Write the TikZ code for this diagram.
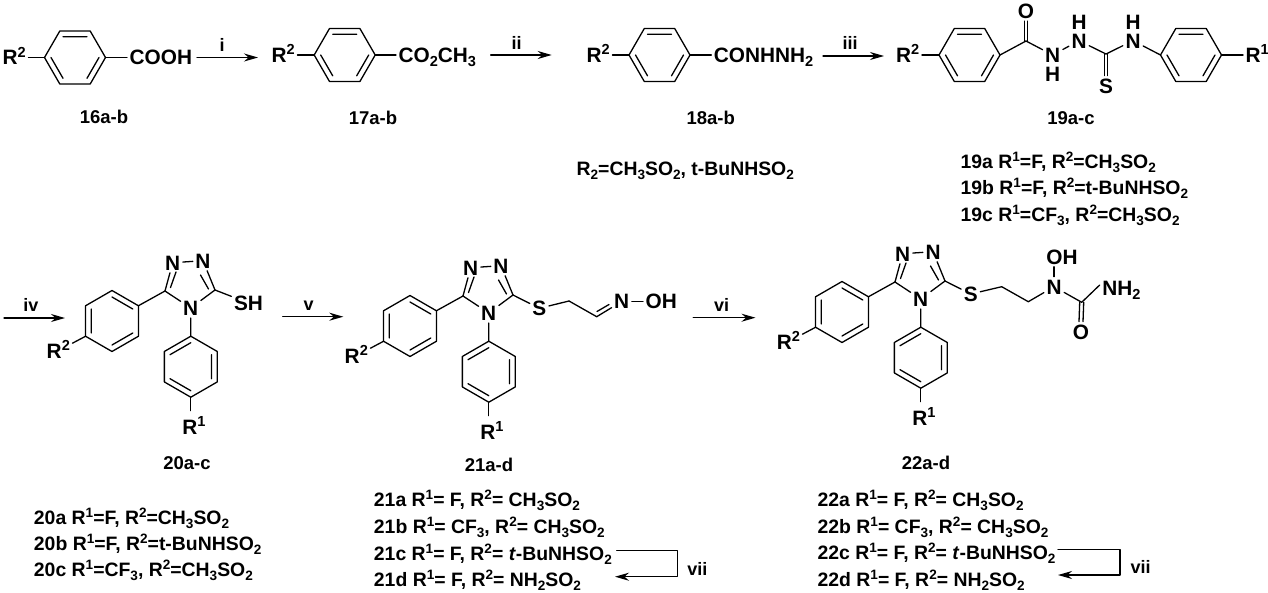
\documentclass[tikz,border=0pt]{standalone}
\usepackage{fontspec}
\setmainfont{Liberation Sans}
\usetikzlibrary{arrows.meta}
\newcommand{\lsup}[1]{\raisebox{.36em}{\scalebox{.7}{#1}}}
\newcommand{\lsub}[1]{\raisebox{-.2em}{\scalebox{.7}{#1}}}
\tikzset{
  atom/.style={font=\bfseries\fontsize{20.8}{20.8}\selectfont,inner sep=2pt,text height=14.9pt,text depth=0pt},
  cpd/.style={font=\bfseries\fontsize{18.5}{18.5}\selectfont,inner sep=0pt},
  reag/.style={font=\bfseries\fontsize{18}{18}\selectfont,inner sep=0pt},
  listline/.style={font=\bfseries\fontsize{19.4}{19.4}\selectfont,inner sep=0pt,anchor=west,text height=13.9pt,text depth=0pt},
  benzene/.pic={
    \draw (0:30.5pt) coordinate (-0) -- (60:30.5pt) coordinate (-1) -- (120:30.5pt) coordinate (-2) -- (180:30.5pt) coordinate (-3) -- (240:30.5pt) coordinate (-4) -- (300:30.5pt) coordinate (-5) -- cycle;
    \draw (60:24pt) -- (120:24pt) (180:24pt) -- (240:24pt) (300:24pt) -- (360:24pt);
  }
}
% diaryl triazole core, shared by 20, 21 and 22
\newcommand{\triazolecore}[3]{
  \begin{scope}[shift={(#2,#3)}]
    \pic[rotate=-30] (#1ra) at (112,321) {benzene};
    \pic[rotate=30] (#1rb) at (190.8,366.7) {benzene};
    \coordinate (#1c5) at (165,291);
    \coordinate (#1c3) at (215,290);
    \node[atom] (#1n1) at (172.7,262.7) {N};
    \node[atom] (#1n2) at (203,260.7) {N};
    \node[atom] (#1n4) at (190.7,308) {N};
    \node[atom] (#1rtwo) at (58.3,350.7) {R\lsup{2}};
    \node[atom,inner ysep=8pt] (#1rone) at (194,426.7) {R\lsup{1}};
    \draw (#1ra-1) -- (#1c5);
    \draw (#1c5) -- (#1n1);
    \draw (#1n1) -- (#1n2);
    \draw (#1n2) -- (#1c3);
    \draw (#1c3) -- (#1n4);
    \draw (#1n4) -- (#1c5);
    \draw (170.5,287.5) -- (176,272);
    \draw (200.5,275) -- (208.5,289);
    \draw (#1n4) -- (#1rb-1);
    \draw (#1rb-4) -- (#1rb-4 |- #1rone.north);
    \draw (#1ra-4) -- (#1rtwo);
  \end{scope}
}
\begin{document}
\begin{tikzpicture}[line cap=round,line join=round,>={Stealth[length=14pt,width=8pt]},x=1pt,y=-1pt,line width=1.3pt]
    \useasboundingbox (0,0) rectangle (1268,592);
    % top row
    \pic (r16) at (75,57.5) {benzene};
    \node[atom,anchor=west] (rtwo16) at (0,57.5) {R\lsup{2}};
    \node[atom,anchor=west] (cooh16) at (127,57.5) {COOH};
    \draw (rtwo16) -- (r16-3);
    \draw (r16-0) -- (cooh16);
    \node[cpd] (lab16) at (104,117) {16a-b};
    \coordinate (arr1a) at (197,57.5);
    \coordinate (arr1b) at (258,57.5);
    \draw[->] (arr1a) -- (arr1b);
    \node[reag] (reag1) at (222,45) {i};

    \pic (r17) at (344.7,55) {benzene};
    \node[atom,anchor=west] (rtwo17) at (269,55) {R\lsup{2}};
    \node[atom,anchor=west] (ester17) at (396,55) {CO\lsub{2}CH\lsub{3}};
    \draw (rtwo17) -- (r17-3);
    \draw (r17-0) -- (ester17);
    \node[cpd] (lab17) at (373,118) {17a-b};
    \coordinate (arr2a) at (490.7,55);
    \coordinate (arr2b) at (551.7,55);
    \draw[->] (arr2a) -- (arr2b);
    \node[reag] (reag2) at (516.7,43) {ii};

    \pic (r18) at (659.5,55) {benzene};
    \node[atom,anchor=west] (rtwo18) at (584,55) {R\lsup{2}};
    \node[atom,anchor=west] (hyd18) at (711.3,55) {CONHNH\lsub{2}};
    \draw (rtwo18) -- (r18-3);
    \draw (r18-0) -- (hyd18);
    \node[cpd] (lab18) at (710.7,118) {18a-b};
    \node[listline] (sub18) at (576,169) {R\lsub{2}=CH\lsub{3}SO\lsub{2}, t-BuNHSO\lsub{2}};
    \coordinate (arr3a) at (823,56);
    \coordinate (arr3b) at (884,56);
    \draw[->] (arr3a) -- (arr3b);
    \node[reag] (reag3) at (850,43) {iii};

    \pic (r19a) at (969.5,55) {benzene};
    \pic (r19b) at (1191,55) {benzene};
    \node[atom,anchor=west] (rtwo19) at (893.5,55) {R\lsup{2}};
    \node[atom,anchor=west] (rone19) at (1243,55) {R\lsup{1}};
    \coordinate (c19a) at (1026,41);
    \coordinate (c19b) at (1106,54);
    \node[atom] (o19) at (1026,11) {O};
    \node[atom] (n19a) at (1052.7,55) {N};
    \node[atom,inner sep=0pt] (h19a) at (1052.7,74) {H};
    \node[atom] (n19b) at (1079,40.7) {N};
    \node[atom,inner sep=0pt] (h19b) at (1079,22) {H};
    \node[atom] (n19c) at (1133,40.7) {N};
    \node[atom,inner sep=0pt] (h19c) at (1133,22) {H};
    \node[atom] (s19) at (1106,85.7) {S};
    \draw (rtwo19) -- (r19a-3);
    \draw (r19a-0) -- (c19a);
    \draw ([xshift=-1.7pt]c19a) -- ([xshift=-1.7pt]o19.south);
    \draw ([xshift=1.7pt]c19a) -- ([xshift=1.7pt]o19.south);
    \draw (c19a) -- (n19a);
    \draw (n19a) -- (n19b);
    \draw (n19b) -- (c19b);
    \draw (c19b) -- (n19c);
    \draw ([xshift=-1.7pt]c19b) -- ([xshift=-1.7pt]s19.north);
    \draw ([xshift=1.7pt]c19b) -- ([xshift=1.7pt]s19.north);
    \draw (n19c) -- (r19b-3);
    \draw (r19b-0) -- (rone19);
    \node[cpd] (lab19) at (1071,118) {19a-c};
    \node[listline] (l19a) at (960,162) {19a R\lsup{1}=F, R\lsup{2}=CH\lsub{3}SO\lsub{2}};
    \node[listline] (l19b) at (960,188) {19b R\lsup{1}=F, R\lsup{2}=t-BuNHSO\lsub{2}};
    \node[listline] (l19c) at (960,215) {19c R\lsup{1}=CF\lsub{3}, R\lsup{2}=CH\lsub{3}SO\lsub{2}};

    % bottom row
    \coordinate (arr4a) at (4,318);
    \coordinate (arr4b) at (65,318);
    \draw[->] (arr4a) -- (arr4b);
    \node[reag] (reag4) at (31,305) {iv};
    \triazolecore{t20}{0}{0}
    \node[atom] (sh20) at (248.5,303) {SH};
    \draw (t20c3) -- (sh20);
    \node[cpd] (lab20) at (187,462.7) {20a-c};
    \node[listline] (l20a) at (33.3,518) {20a R\lsup{1}=F, R\lsup{2}=CH\lsub{3}SO\lsub{2}};
    \node[listline] (l20b) at (33.3,544) {20b R\lsup{1}=F, R\lsup{2}=t-BuNHSO\lsub{2}};
    \node[listline] (l20c) at (33.3,570) {20c R\lsup{1}=CF\lsub{3}, R\lsup{2}=CH\lsub{3}SO\lsub{2}};

    \coordinate (arr5a) at (282.7,316.7);
    \coordinate (arr5b) at (343.3,316.7);
    \draw[->] (arr5a) -- (arr5b);
    \node[reag] (reag5) at (308.7,305.7) {v};
    \triazolecore{t21}{298}{5}
    \node[atom] (s21) at (539.3,308.3) {S};
    \coordinate (c21a) at (569,301);
    \coordinate (c21b) at (596.7,316.7);
    \node[atom] (n21) at (621.7,301.5) {N};
    \node[atom,anchor=west] (oh21) at (643,301.5) {OH};
    \draw (t21c3) -- (s21);
    \draw (s21) -- (c21a);
    \draw (c21a) -- (c21b);
    \draw (c21b) -- (n21);
    \draw (597,311.5) -- (609,304.5);
    \draw (n21) -- (oh21);
    \node[cpd] (lab21) at (489,465) {21a-d};
    \node[listline] (l21a) at (373.3,500) {21a R\lsup{1}= F, R\lsup{2}= CH\lsub{3}SO\lsub{2}};
    \node[listline] (l21b) at (373.3,527) {21b R\lsup{1}= CF\lsub{3}, R\lsup{2}= CH\lsub{3}SO\lsub{2}};
    \node[listline] (l21c) at (373.3,554) {21c R\lsup{1}= F, R\lsup{2}= \textit{t}-BuNHSO\lsub{2}};
    \node[listline] (l21d) at (373.3,580) {21d R\lsup{1}= F, R\lsup{2}= NH\lsub{2}SO\lsub{2}};
    \coordinate (brk21a) at (616.7,550.7);
    \coordinate (brk21b) at (677.7,550.7);
    \coordinate (brk21c) at (677.7,576.7);
    \coordinate (brk21d) at (615,576.7);
    \draw[->] (brk21a) -- (brk21b) -- (brk21c) -- (brk21d);
    \node[reag] (reag7a) at (697.3,569) {vii};

    \coordinate (arr6a) at (693.3,317.7);
    \coordinate (arr6b) at (755.5,317.7);
    \draw[->] (arr6a) -- (arr6b);
    \node[reag] (reag6) at (721.7,305) {vi};
    \triazolecore{t22}{730}{-9}
    \node[atom] (s22) at (970.7,294) {S};
    \coordinate (c22a) at (1001.7,286.7);
    \coordinate (c22b) at (1028.3,301.7);
    \coordinate (c22c) at (1081.7,302.3);
    \node[atom] (n22) at (1054,286.7) {N};
    \node[atom] (oh22) at (1062,256.7) {OH};
    \node[atom] (o22) at (1081,331.7) {O};
    \node[atom,anchor=west] (nh22) at (1099.7,288) {NH\lsub{2}};
    \draw (t22c3) -- (s22);
    \draw (s22) -- (c22a);
    \draw (c22a) -- (c22b);
    \draw (c22b) -- (n22);
    \draw (n22.north) -- (n22.north |- oh22.south);
    \draw (n22) -- (c22c);
    \draw ([xshift=-2pt]c22c) -- ([xshift=-2pt]o22.north);
    \draw ([xshift=2pt]c22c) -- ([xshift=2pt]o22.north);
    \draw (c22c) -- ([yshift=3pt]nh22.west);
    \node[cpd] (lab22) at (926,462.7) {22a-d};
    \node[listline] (l22a) at (817,500) {22a R\lsup{1}= F, R\lsup{2}= CH\lsub{3}SO\lsub{2}};
    \node[listline] (l22b) at (817,527) {22b R\lsup{1}= CF\lsub{3}, R\lsup{2}= CH\lsub{3}SO\lsub{2}};
    \node[listline] (l22c) at (817,553) {22c R\lsup{1}= F, R\lsup{2}= \textit{t}-BuNHSO\lsub{2}};
    \node[listline] (l22d) at (817,580) {22d R\lsup{1}= F, R\lsup{2}= NH\lsub{2}SO\lsub{2}};
    \coordinate (brk22a) at (1058,549.3);
    \coordinate (brk22b) at (1120,549.3);
    \coordinate (brk22c) at (1120,575);
    \coordinate (brk22d) at (1058,575);
    \draw[->] (brk22a) -- (brk22b) -- (brk22c) -- (brk22d);
    \node[reag] (reag7b) at (1140.7,567) {vii};
\end{tikzpicture}
\end{document}
